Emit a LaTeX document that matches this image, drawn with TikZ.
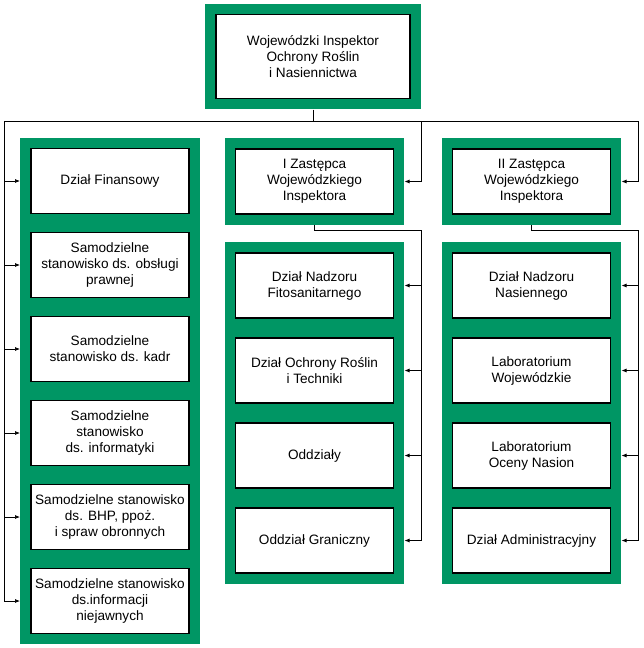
\documentclass[tikz,border=0pt]{standalone}
\usepackage{fontspec}
\setmainfont{Liberation Sans}
\usetikzlibrary{arrows.meta, positioning, fit, backgrounds}
\definecolor{wiorgreen}{RGB}{0,150,100}

\begin{document}
\begin{tikzpicture}[x=1pt, y=-1pt,
      node distance=17.4pt,
      unit/.style={draw, line width=1.6pt, fill=white, minimum width=158pt, minimum height=65pt, align=center, inner sep=2pt, font=\fontsize{13.6}{16}\selectfont},
      frame/.style={fill=wiorgreen, inner sep=10pt},
      link/.style={line width=0.7pt},
      feed/.style={line width=0.7pt, -{Latex[length=5pt,width=4pt]}}
    ]
    \useasboundingbox (0,0) rectangle (643,648);

    % top
    \node[unit, minimum width=194pt, minimum height=84pt] (wior) at (313,56.5) {Wojewódzki Inspektor\\Ochrony Roślin\\i Nasiennictwa};

    % left column
    \node[unit] (fin) at (110,181) {Dział Finansowy};
    \node[unit, below=of fin] (praw) {Samodzielne\\stanowisko ds. obsługi\\prawnej};
    \node[unit, below=of praw] (kadr) {Samodzielne\\stanowisko ds. kadr};
    \node[unit, below=of kadr] (inf) {Samodzielne\\stanowisko\\ds. informatyki};
    \node[unit, below=of inf] (bhp) {Samodzielne stanowisko\\ds. BHP, ppoż.\\i spraw obronnych};
    \node[unit, below=of bhp] (niej) {Samodzielne stanowisko\\ds.informacji\\niejawnych};

    % deputies
    \node[unit] (zast1) at (314.5,181.5) {I Zastępca\\Wojewódzkiego\\Inspektora};
    \node[unit] (zast2) at (531.5,181.5) {II Zastępca\\Wojewódzkiego\\Inspektora};

    % middle column
    \node[unit] (fito) at (314.5,285.5) {Dział Nadzoru\\Fitosanitarnego};
    \node[unit, below=18.4pt of fito] (ochr) {Dział Ochrony Roślin\\i Techniki};
    \node[unit, below=18.4pt of ochr] (oddz) {Oddziały};
    \node[unit, below=18.4pt of oddz] (ogr) {Oddział Graniczny};

    % right column
    \node[unit] (nas) at (531.5,285.5) {Dział Nadzoru\\Nasiennego};
    \node[unit, below=18.4pt of nas] (labw) {Laboratorium\\Wojewódzkie};
    \node[unit, below=18.4pt of labw] (labn) {Laboratorium\\Oceny Nasion};
    \node[unit, below=18.4pt of labn] (adm) {Dział Administracyjny};

    \begin{scope}[on background layer]
      \node[frame, fit=(wior)] (wiorF) {};
      \node[frame, fit=(fin)(niej)] (leftF) {};
      \node[frame, fit=(zast1)] (zast1F) {};
      \node[frame, fit=(zast2)] (zast2F) {};
      \node[frame, fit=(fito)(ogr)] (midF) {};
      \node[frame, fit=(nas)(adm)] (rightF) {};
    \end{scope}

    % connectors
    \coordinate (busL) at (4,121);
    \coordinate (busM) at (421,121);
    \coordinate (busR) at (638,121);
    \coordinate (drop1) at (421,230);
    \coordinate (drop2) at (638,230);

    \draw[link] (wiorF.south) -- (wiorF.south |- busL);
    \draw[link] (busL) -- (busR);
    \draw[link] (busL) -- (busL |- niej);
    \foreach \u in {fin,praw,kadr,inf,bhp,niej}
      \draw[feed] (busL |- \u) -- (leftF.west |- \u);
    \draw[feed] (busM) |- (zast1F.east);
    \draw[feed] (busR) |- (zast2F.east);

    \draw[link] (zast1F.south) |- (drop1) -- (drop1 |- ogr);
    \foreach \u in {fito,ochr,oddz,ogr}
      \draw[feed] (drop1 |- \u) -- (midF.east |- \u);
    \draw[link] (zast2F.south) |- (drop2) -- (drop2 |- adm);
    \foreach \u in {nas,labw,labn,adm}
      \draw[feed] (drop2 |- \u) -- (rightF.east |- \u);
  \end{tikzpicture}
\end{document}
